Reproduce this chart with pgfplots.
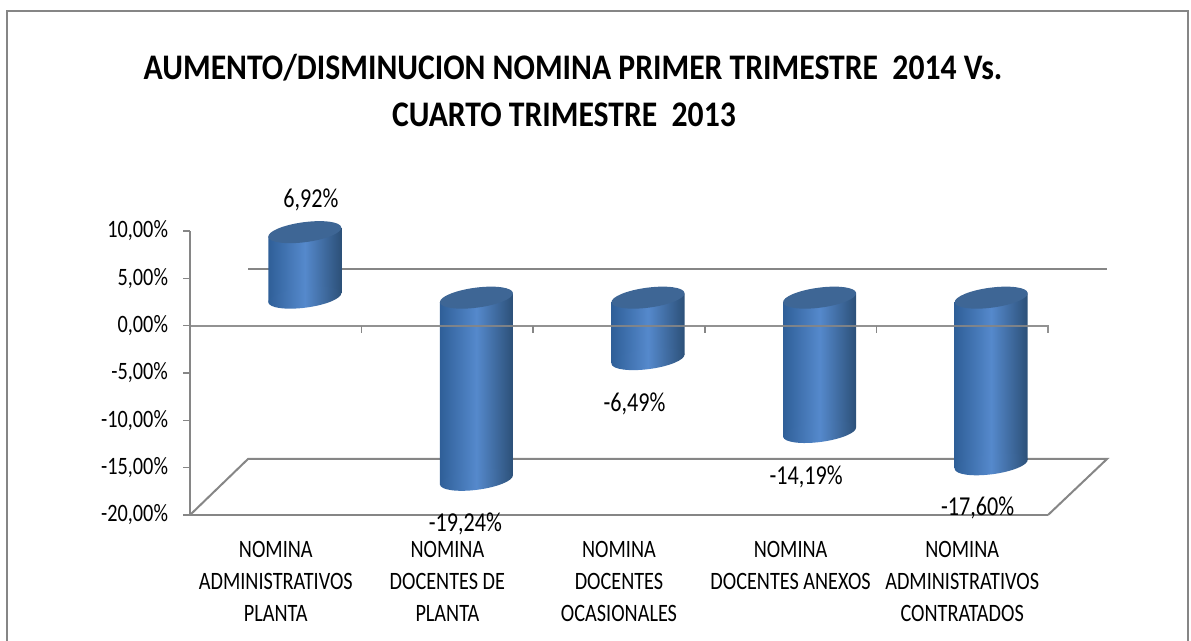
\documentclass[border=0pt]{standalone}
\usepackage{fontspec}
\setmainfont{Carlito}[FakeStretch=0.81]
\newfontfamily\titlefont{Carlito}[FakeStretch=0.88]
\usepackage{pgfplots}
\pgfplotsset{compat=1.18}
\definecolor{axisgray}{HTML}{868686}
\definecolor{capblue}{HTML}{3E6695}
\definecolor{cylleft}{HTML}{2F5F98}
\definecolor{cylmid}{HTML}{5589CC}
\definecolor{cylright}{HTML}{2C5078}
% ellipses for the cylinder ends, tilted through mark options
\pgfdeclareplotmark{cylend}{\shade[draw=none,left color=cylleft,right color=cylright,middle color=cylmid] (0pt,0pt) ellipse [x radius=27.6pt,y radius=7.5pt];}
\pgfdeclareplotmark{cylcap}{\fill[capblue,draw=none] (0pt,0pt) ellipse [x radius=27.6pt,y radius=7.5pt];}
\pgfplotsset{
    % body is slanted to meet the tilted ends; #1 undoes the slant's lift at that category
    cylbody/.style={ybar,bar width=54.8pt,draw=none,left color=cylleft,right color=cylright,middle color=cylmid,xshift=21.75pt,yshift=#1,yslant=0.12,forget plot},
    cylends/.style={only marks,mark options={rotate=7.5,draw=none},xshift=21.75pt,yshift=21pt,forget plot},
}
\begin{document}
\begin{tikzpicture}[x=0.75pt,y=0.75pt]
\useasboundingbox (0,0) rectangle (1191,641);
% outer frame
\draw[axisgray,line width=1.5pt] (7,0) -- (7,630) -- (1188,630) -- (1188,0);
% back wall line and floor
\draw[axisgray,line width=1.5pt] (248,371.5) -- (1107,371.5);
\draw[axisgray,line width=1.5pt] (190,126) -- (248,182) -- (1107,182) -- (1048,126);
\node[font=\titlefont\bfseries\fontsize{27}{36}\selectfont] at (573,573) {AUMENTO/DISMINUCION NOMINA PRIMER TRIMESTRE\ \ 2014 Vs.};
\node[font=\titlefont\bfseries\fontsize{27}{36}\selectfont] at (564,526) {CUARTO TRIMESTRE\ \ 2013};
\begin{axis}[
    at={(142.5pt,94.5pt)}, anchor=south west,
    scale only axis, width=643.5pt, height=213pt,
    xmin=-0.5, xmax=4.5, ymin=-20, ymax=10,
    clip=false,
    axis x line=bottom, axis y line=left,
    axis line style={axisgray,line width=1.5pt,-},
    xtick={0,1,2,3,4},
    xticklabels={{NOMINA\\ADMINISTRATIVOS\\PLANTA},{NOMINA\\DOCENTES DE\\PLANTA},{NOMINA\\DOCENTES\\OCASIONALES},{NOMINA\\DOCENTES ANEXOS},{NOMINA\\ADMINISTRATIVOS\\CONTRATADOS}},
    xticklabel style={align=center,anchor=north,yshift=-11pt,font=\fontsize{18.75}{24}\selectfont},
    xtick style={draw=none},
    ytick={-20,-15,-10,-5,0,5,10},
    yticklabels={{-20,00\%},{-15,00\%},{-10,00\%},{-5,00\%},{0,00\%},{5,00\%},{10,00\%}},
    yticklabel style={font=\fontsize{18.75}{22}\selectfont,xshift=-8pt},
    ytick style={axisgray,line width=1.2pt},
    tick align=outside,
    major tick length=5pt,
]
% far ends of the cylinders
\addplot[cylends,mark=cylend] coordinates {
    (0,0) (1,-19.24) (2,-6.49) (3,-14.19) (4,-17.60)
};
% cylinder bodies
\addplot[cylbody=13.28pt] coordinates {(0,6.92)};
\addplot[cylbody=-2.17pt] coordinates {(1,-19.24)};
\addplot[cylbody=-17.61pt] coordinates {(2,-6.49)};
\addplot[cylbody=-33.05pt] coordinates {(3,-14.19)};
\addplot[cylbody=-48.50pt] coordinates {(4,-17.60)};
% top caps
\addplot[cylends,mark=cylcap] coordinates {
    (0,6.92) (1,0) (2,0) (3,0) (4,0)
};
% zero line with category ticks, over the cylinders
\draw[axisgray,line width=1.5pt,opacity=0.9] (axis cs:-0.5,0) -- (axis cs:4.5,0) -- ++(0pt,-5.5pt);
\draw[axisgray,line width=1.2pt] (axis cs:0.5,0) -- ++(0pt,-5.5pt);
\draw[axisgray,line width=1.2pt] (axis cs:1.5,0) -- ++(0pt,-5.5pt);
\draw[axisgray,line width=1.2pt] (axis cs:2.5,0) -- ++(0pt,-5.5pt);
\draw[axisgray,line width=1.2pt] (axis cs:3.5,0) -- ++(0pt,-5.5pt);
% data labels
\node[font=\fontsize{20.5}{24}\selectfont] at (axis cs:0.205,13.3) {6,92\%};
\node[font=\fontsize{20.5}{24}\selectfont] at (axis cs:1.105,-20.9) {-19,24\%};
\node[font=\fontsize{20.5}{24}\selectfont] at (axis cs:2.09,-8.3) {-6,49\%};
\node[font=\fontsize{20.5}{24}\selectfont] at (axis cs:3.09,-15.95) {-14,19\%};
\node[font=\fontsize{20.5}{24}\selectfont] at (axis cs:4.09,-19.25) {-17,60\%};
\end{axis}
\end{tikzpicture}
\end{document}
